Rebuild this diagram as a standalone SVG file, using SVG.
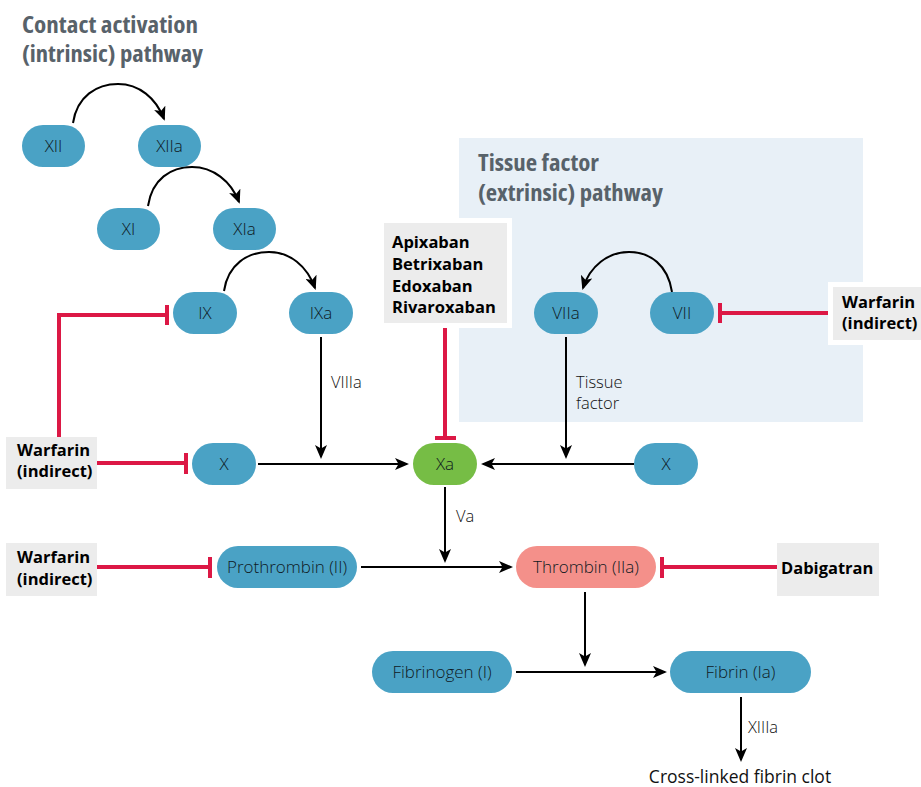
<svg xmlns="http://www.w3.org/2000/svg" width="921" height="787" viewBox="0 0 921 787">
<defs>
<marker id="arr" viewBox="0 0 14 12" markerWidth="14" markerHeight="12" markerUnits="userSpaceOnUse" refX="12" refY="6" orient="auto">
<path d="M0,0 L14,6 L0,12 L3.5,6 Z" fill="#000"/>
</marker>
<style>
.title{font-family:"Liberation Sans Narrow","Open Sans","Liberation Sans",sans-serif;font-weight:700;font-size:23px;fill:#58626a;font-stretch:condensed}
.pill{fill:#4aa2c5}
.lbl{font-family:"Open Sans","Noto Sans",sans-serif;font-weight:300;font-size:17px;fill:#0f1a1f;text-anchor:middle}
.small{font-family:"Open Sans","Noto Sans",sans-serif;font-weight:300;font-size:16.5px;fill:#111}
.drug{font-family:"Open Sans","Noto Sans",sans-serif;font-weight:700;font-size:16.5px;fill:#000}
.box{fill:#ececec}
.arrow{fill:none;stroke:#000;stroke-width:2;marker-end:url(#arr)}
.inh{fill:none;stroke:#dc1845;stroke-width:4}
</style>
</defs>
<rect width="921" height="787" fill="#fff"/>
<rect x="459" y="138" width="404" height="284" fill="#e8f0f7"/>
<text class="title" x="22" y="33" textLength="176" lengthAdjust="spacingAndGlyphs">Contact activation</text>
<text class="title" x="22" y="62" textLength="181" lengthAdjust="spacingAndGlyphs">(intrinsic) pathway</text>
<text class="title" x="478" y="171" textLength="121" lengthAdjust="spacingAndGlyphs">Tissue factor</text>
<text class="title" x="478" y="201" textLength="185" lengthAdjust="spacingAndGlyphs">(extrinsic) pathway</text>

<g id="connectors">
<path class="arrow" d="M73,123 C77,96 97,84 118,84 C139,84 156,98 164,119"/>
<path class="arrow" d="M148,206 C152,179 171,167 192,167 C213,167 231,181 239,202"/>
<path class="arrow" d="M224,291 C228,264 248,252 269,252 C290,252 307,266 315,288"/>
<path class="arrow" d="M672,292 C668,265 650,252 629,252 C608,252 590,266 583,288"/>
<path class="arrow" d="M321,337 V457"/>
<path class="arrow" d="M566,337 V457"/>
<path class="arrow" d="M258,464 H407"/>
<path class="arrow" d="M634,464 H483"/>
<path class="arrow" d="M445,487 V561"/>
<path class="arrow" d="M361,567 H511"/>
<path class="arrow" d="M585,592 V665"/>
<path class="arrow" d="M516,672 H665"/>
<path class="arrow" d="M741,697 V760"/>
<path class="inh" d="M445,323 V437 M435,438 H456"/>
<path class="inh" d="M59,437 V315 H167 M167,305 V325"/>
<path class="inh" d="M97,463 H186 M186,453 V474"/>
<path class="inh" d="M97,567 H210 M210,557 V578"/>
<path class="inh" d="M777,567 H662 M662,557 V578"/>
<path class="inh" d="M833,313 H720 M720,303 V323"/>
<text class="small" x="331" y="388">VIIIa</text>
<text class="small" x="576" y="388">Tissue</text>
<text class="small" x="576" y="409">factor</text>
<text class="small" x="456" y="522">Va</text>
<text class="small" x="748" y="733">XIIIa</text>
</g>

<g id="n-XII"><rect class="pill" x="22" y="125" width="63" height="42" rx="21"/><text class="lbl" x="53.5" y="152">XII</text></g>
<g id="n-XIIa"><rect class="pill" x="138" y="125" width="63" height="42" rx="21"/><text class="lbl" x="169.5" y="152">XIIa</text></g>
<g id="n-XI"><rect class="pill" x="97" y="208" width="63" height="42" rx="21"/><text class="lbl" x="128.5" y="235">XI</text></g>
<g id="n-XIa"><rect class="pill" x="213" y="208" width="63" height="42" rx="21"/><text class="lbl" x="244.5" y="235">XIa</text></g>
<g id="n-IX"><rect class="pill" x="173" y="292" width="64" height="42" rx="21"/><text class="lbl" x="205" y="319">IX</text></g>
<g id="n-IXa"><rect class="pill" x="289" y="292" width="64" height="42" rx="21"/><text class="lbl" x="321" y="319">IXa</text></g>
<g id="n-VIIa"><rect class="pill" x="534" y="292" width="64" height="42" rx="21"/><text class="lbl" x="566" y="319">VIIa</text></g>
<g id="n-VII"><rect class="pill" x="650" y="292" width="64" height="42" rx="21"/><text class="lbl" x="682" y="319">VII</text></g>
<g id="n-X-left"><rect class="pill" x="192" y="443" width="64" height="42" rx="21"/><text class="lbl" x="224" y="470">X</text></g>
<g id="n-Xa"><rect x="413" y="443" width="64" height="42" rx="21" fill="#76bd45"/><text class="lbl" x="445" y="470">Xa</text></g>
<g id="n-X-right"><rect class="pill" x="634" y="443" width="64" height="42" rx="21"/><text class="lbl" x="666" y="470">X</text></g>
<g id="n-prothrombin"><rect class="pill" x="217" y="546" width="140" height="42" rx="21"/><text class="lbl" x="287" y="573">Prothrombin (II)</text></g>
<g id="n-thrombin"><rect x="516" y="546" width="140" height="42" rx="21" fill="#f4908a"/><text class="lbl" x="586" y="573">Thrombin (IIa)</text></g>
<g id="n-fibrinogen"><rect class="pill" x="372" y="651" width="140" height="42" rx="21"/><text class="lbl" x="442" y="678">Fibrinogen (I)</text></g>
<g id="n-fibrin"><rect class="pill" x="670" y="651" width="141" height="42" rx="21"/><text class="lbl" x="740.5" y="678">Fibrin (Ia)</text></g>
<g id="n-clot"><text class="lbl" x="740" y="783" style="font-weight:400;font-size:17.5px;fill:#111">Cross-linked fibrin clot</text></g>

<g id="d-xa-inhibitors"><rect x="379" y="218" width="133" height="110" fill="#fff"/><rect class="box" x="384" y="223" width="123" height="100"/>
<text class="drug" x="392" y="248">Apixaban</text><text class="drug" x="392" y="270">Betrixaban</text><text class="drug" x="392" y="292">Edoxaban</text><text class="drug" x="392" y="313">Rivaroxaban</text></g>
<g id="d-warfarin-vii"><rect x="828" y="282" width="93" height="63" fill="#fff"/><rect class="box" x="833" y="287" width="88" height="53"/>
<text class="drug" x="842" y="308">Warfarin</text><text class="drug" x="842" y="329">(indirect)</text></g>
<g id="d-warfarin-x"><rect class="box" x="6" y="437" width="91" height="52"/>
<text class="drug" x="17" y="456">Warfarin</text><text class="drug" x="17" y="477">(indirect)</text></g>
<g id="d-warfarin-ii"><rect class="box" x="6" y="543" width="91" height="53"/>
<text class="drug" x="17" y="563">Warfarin</text><text class="drug" x="17" y="585">(indirect)</text></g>
<g id="d-dabigatran"><rect class="box" x="777" y="543" width="102" height="53"/>
<text class="drug" x="781" y="574">Dabigatran</text></g>
</svg>
